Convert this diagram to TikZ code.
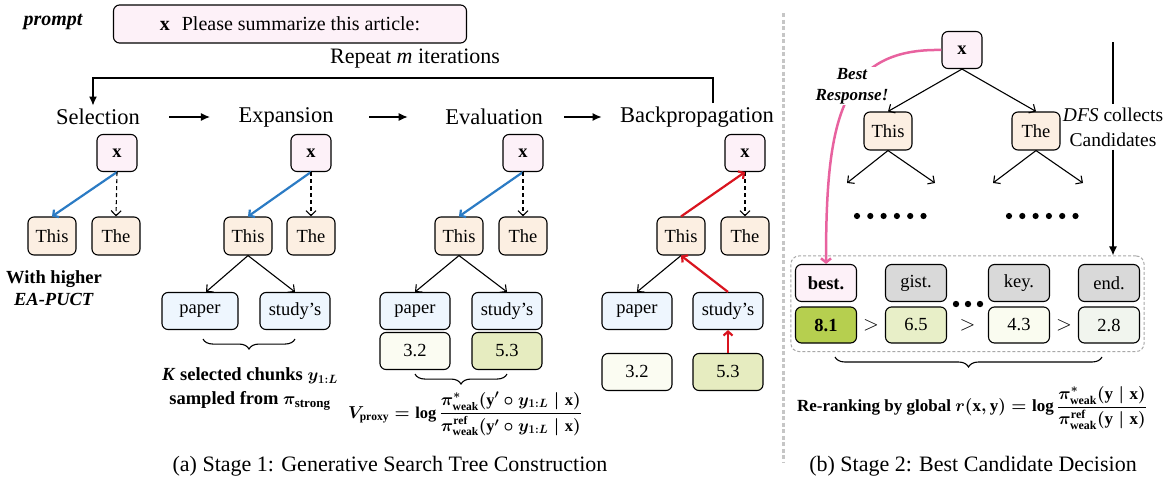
\documentclass[tikz,border=0pt]{standalone}
\usepackage{amsmath}
\usepackage{fontspec}
\setmainfont{Liberation Serif}
\usetikzlibrary{arrows.meta,decorations.pathreplacing,calc,fit}

\definecolor{xpink}{HTML}{FDF1F8}
\definecolor{peach}{HTML}{FCEFE2}
\definecolor{lblue}{HTML}{EEF6FE}
\definecolor{scoreA}{HTML}{FBFCF2}
\definecolor{scoreB}{HTML}{E6ECC0}
\definecolor{bestgreen}{HTML}{B6CF4F}
\definecolor{gA}{HTML}{E8EFC8}
\definecolor{gB}{HTML}{FAFCF0}
\definecolor{gC}{HTML}{F1F5EE}
\definecolor{candgray}{HTML}{D9D9D9}
\definecolor{selblue}{HTML}{2B7BC4}
\definecolor{bpred}{HTML}{D9141F}
\definecolor{bestpink}{HTML}{E8629F}
\definecolor{divgray}{HTML}{C6C6C6}
\definecolor{boxgray}{HTML}{A8A8A8}

\newcommand\fsz[2]{\fontsize{#1}{#2}\selectfont}
\newcommand\bx{\textbf{x}}
\newcommand\by{\textbf{y}}

\tikzset{
  every node/.style={font=\fsz{18.5}{22}},
  tbox/.style={draw, line width=1.1pt, rounded corners=6pt, inner sep=0pt, minimum height=37pt},
  xnode/.style={tbox, fill=xpink, minimum width=40pt, font=\fsz{18.5}{22}\bfseries},
  toknode/.style={tbox, fill=peach, minimum width=48pt, minimum height=38pt},
  chunknode/.style={tbox, fill=lblue, minimum width=70pt},
  scorenode/.style={tbox, minimum width=70pt},
  candnode/.style={tbox, minimum width=61pt},
  candscore/.style={tbox, minimum width=61pt, minimum height=36pt},
  stagelabel/.style={font=\fsz{22.5}{26}},
  treearrow/.style={line width=1.1pt, -{Straight Barb[length=5pt,width=10pt]}},
  dasharrow/.style={treearrow, dash pattern=on 4pt off 3pt},
  bluearrow/.style={line width=2.2pt, draw=selblue, -{Straight Barb[length=4pt,width=9pt]}},
  redarrow/.style={line width=2.2pt, draw=bpred, -{Straight Barb[length=4pt,width=9pt]}},
  steparrow/.style={line width=1.3pt, -{Latex[length=9pt,width=8pt]}},
  bracestyle/.style={decorate, decoration={brace,mirror,amplitude=10pt}, line width=1.1pt},
  caption/.style={font=\fsz{22}{26}, inner sep=0pt},
  formula/.style={inner sep=0pt},
}

\begin{document}
\begin{tikzpicture}[x=1pt,y=-1pt]
\useasboundingbox (0,0) rectangle (1167,479);

% ---------- prompt ----------
\node[font=\fsz{20}{24}\bfseries\itshape] (plabel) at (53,22) {prompt};
\node[tbox, fill=xpink, minimum width=353pt, minimum height=38pt, font=\fsz{20}{24}] (prompt) at (290,24)
  {\textbf{x}\hspace{12pt}Please summarize this article:};

% ---------- stage labels and loop ----------
\node[stagelabel] (sel) at (98,117) {Selection};
\node[stagelabel] (exp) at (286,117) {Expansion};
\node[stagelabel] (eva) at (494,117) {Evaluation};
\node[stagelabel] (bpl) at (697,117) {Backpropagation};
\node[font=\fsz{22}{26}] (rep) at (415,59) {Repeat \textit{m} iterations};

\draw[steparrow] ([xshift=26pt]sel.east) -- ([xshift=-25pt]exp.west);
\draw[steparrow] ([xshift=32pt]exp.east) -- ([xshift=-34pt]eva.west);
\draw[steparrow] ([xshift=18pt]eva.east) -- ([xshift=-15pt]bpl.west);

\coordinate (loopR) at (713,78);
\coordinate (loopL) at (93,78);
\draw[steparrow] (bpl.north -| loopR) -- (loopR) -- (loopL) -- (loopL |- sel.north);

% ---------- Selection ----------
\node[xnode] (s-x) at (117,153) {x};
\node[toknode] (s-this) at (52,236) {This};
\node[toknode] (s-the) at (116,236) {The};
\draw[bluearrow] (s-x.south) -- (s-this.north);
\draw[dasharrow] (s-x.south) -- (s-the.north);
\node[font=\fsz{18.5}{22}\bfseries, align=center] (hint) at (54,288) {With higher\\\textit{EA-PUCT}};

% ---------- Expansion ----------
\node[xnode] (e-x) at (311,153) {x};
\node[toknode] (e-this) at (248,236) {This};
\node[toknode] (e-the) at (311,236) {The};
\node[chunknode, minimum width=76pt] (e-paper) at (200,311) {paper};
\node[chunknode] (e-study) at (295,311) {study’s};
\draw[bluearrow] (e-x.south) -- (e-this.north);
\draw[dasharrow] (e-x.south) -- (e-the.north);
\draw[treearrow] (e-this.south) -- ([xshift=6pt]e-paper.north);
\draw[treearrow] (e-this.south) -- (e-study.north);
\draw[bracestyle] ([xshift=3pt,yshift=-9pt]e-paper.south) -- ([yshift=-9pt]e-study.south);
\node[font=\fsz{18.5}{24}\bfseries\boldmath, align=center, formula] (kchunks) at (250,389)
  {\textit{K} selected chunks $y_{1:L}$\\sampled from $\pi_{\mathrm{strong}}$};

% ---------- Evaluation ----------
\node[xnode] (v-x) at (523,153) {x};
\node[toknode] (v-this) at (459,236) {This};
\node[toknode] (v-the) at (523,236) {The};
\node[chunknode] (v-paper) at (415,311) {paper};
\node[chunknode] (v-study) at (507,311) {study’s};
\node[scorenode, fill=scoreA] (v-s1) at (415,351) {3.2};
\node[scorenode, fill=scoreB] (v-s2) at (507,351) {5.3};
\draw[bluearrow] (v-x.south) -- (v-this.north);
\draw[dasharrow] (v-x.south) -- (v-the.north);
\draw[treearrow] (v-this.south) -- (v-paper.north);
\draw[treearrow] (v-this.south) -- (v-study.north);
\draw[bracestyle] ([yshift=-4pt]v-s1.south) -- ([yshift=-4pt]v-s2.south);
\node[font=\fsz{16.5}{20}\bfseries\boldmath, formula] (vproxy) at (465,414)
  {$V_{\mathrm{proxy}} = \log \dfrac{\pi^{*}_{\mathrm{weak}}(\by'\circ y_{1:L}\mid \bx)}{\pi^{\mathrm{ref}}_{\mathrm{weak}}(\by'\circ y_{1:L}\mid \bx)}$};

% ---------- Backpropagation ----------
\node[xnode] (b-x) at (745,153) {x};
\node[toknode] (b-this) at (681,236) {This};
\node[toknode] (b-the) at (745,236) {The};
\node[chunknode] (b-paper) at (637,311) {paper};
\node[chunknode] (b-study) at (728,311) {study’s};
\node[scorenode, fill=scoreA] (b-s1) at (637,372) {3.2};
\node[scorenode, fill=scoreB] (b-s2) at (728,372) {5.3};
\draw[dasharrow] (b-x.south) -- (b-the.north);
\draw[treearrow] (b-this.south) -- (b-paper.north);
\draw[redarrow] (b-this.north) -- (b-x.south);
\draw[redarrow] (b-study.north) -- (b-this.south);
\draw[redarrow] (b-s2.north) -- (b-study.south);

% ---------- divider ----------
\draw[divgray, line width=3pt, dash pattern=on 4pt off 2.5pt] (783,13) -- (783,462);

% ---------- Stage 2 tree ----------
\node[xnode] (r-x) at (962,50) {x};
\node[toknode] (r-this) at (888,131) {This};
\node[toknode] (r-the) at (1036,131) {The};
\coordinate (r-l1) at (847,183);
\coordinate (r-l2) at (935,183);
\coordinate (r-l3) at (993,183);
\coordinate (r-l4) at (1083,183);
\draw[treearrow] (r-x.south) -- (r-this.north);
\draw[treearrow] (r-x.south) -- (r-the.north);
\draw[treearrow] (r-this.south) -- (r-l1);
\draw[treearrow] (r-this.south) -- (r-l2);
\draw[treearrow] (r-the.south) -- (r-l3);
\draw[treearrow] (r-the.south) -- (r-l4);
\foreach \i in {0,...,5} {
  \fill (857+13.3*\i,216) circle (3.1pt);
  \fill (1009+13.3*\i,216) circle (3.1pt);
}

% ---------- candidates ----------
\node[candnode, fill=xpink, font=\fsz{18.5}{22}\bfseries] (c1) at (826,283) {best.};
\node[candnode, fill=candgray] (c2) at (916,283) {gist.};
\node[candnode, fill=candgray] (c3) at (1019,283) {key.};
\node[candnode, fill=candgray] (c4) at (1109,283) {end.};
\node[candscore, fill=bestgreen, font=\fsz{18.5}{22}\bfseries] (q1) at (826,325) {8.1};
\node[candscore, fill=gA] (q2) at (916,325) {6.5};
\node[candscore, fill=gB] (q3) at (1019,325) {4.3};
\node[candscore, fill=gC] (q4) at (1109,325) {2.8};
\node[font=\fsz{20}{24}] (gt1) at ($(q1.east)!0.5!(q2.west)$) {$>$};
\node[font=\fsz{20}{24}] (gt2) at ($(q2.east)!0.5!(q3.west)$) {$>$};
\node[font=\fsz{20}{24}] (gt3) at ($(q3.east)!0.5!(q4.west)$) {$>$};
\foreach \i in {0,1,2} \fill (956+12*\i,304) circle (3.2pt);
\node[fit=(c1)(c4)(q1)(q4), inner xsep=4pt, inner ysep=8pt, draw=boxgray, line width=1pt,
  dash pattern=on 3pt off 2pt, rounded corners=8pt] (cands) {};

% DFS collection arrow
\node[align=center, font=\fsz{19.5}{25}, inner sep=3pt] (dfs) at (1113,127) {\textit{DFS} collects\\Candidates};
\coordinate (dfs-top) at (1113,42);
\draw[line width=1.3pt] (dfs-top) -- (dfs.north);
\draw[steparrow] (dfs.south) -- (dfs.south |- cands.north);

% best response curve
\draw[bestpink, line width=2.5pt, -{Straight Barb[length=4pt,width=10pt]}]
  (r-x.west) .. controls (840,48) and (826,120) .. (c1.north);
\node[fill=white, inner sep=1pt, align=center, font=\fsz{17}{21}\bfseries\itshape] (bestresp) at (852,86)
  {Best\\Response!};

% re-ranking formula
\draw[bracestyle] (835,357) -- (1102,357);
\node[font=\fsz{17}{21}\bfseries\boldmath, formula] (rerank) at (972,408)
  {Re-ranking by global $r(\bx,\by) = \log \dfrac{\pi^{*}_{\mathrm{weak}}(\by\mid \bx)}{\pi^{\mathrm{ref}}_{\mathrm{weak}}(\by\mid \bx)}$};

% ---------- captions ----------
\node[caption] (capa) at (390,466) {(a) Stage 1: Generative Search Tree Construction};
\node[caption] (capb) at (973,466) {(b) Stage 2: Best Candidate Decision};
\end{tikzpicture}
\end{document}
